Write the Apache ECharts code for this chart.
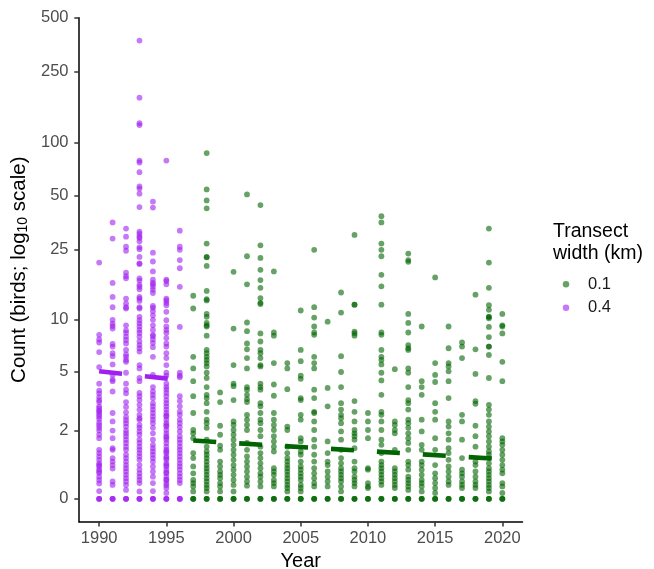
<!DOCTYPE html>
<html>
<head>
<meta charset="utf-8">
<script src="https://cdn.jsdelivr.net/npm/echarts@6/dist/echarts.min.js"></script>
<style>
html,body{margin:0;padding:0;background:#fff;}
#chart{width:654px;height:569px;}
</style>
</head>
<body>
<div id="chart"></div>
<script>
// ---- Data (counts) ----
const widthLabels = ['0.1', '0.4'];
const years04 = [1990, 1991, 1992, 1993, 1994, 1995, 1996];
const years01 = [1997, 1998, 1999, 2000, 2001, 2002, 2003, 2004, 2005, 2006, 2007, 2008,
                 2009, 2010, 2011, 2012, 2013, 2014, 2015, 2016, 2017, 2018, 2019, 2020];

const c1990 = [21.1, 8.2, 7.7, 7.4, 6.5, 5.3, 4.2, 3.8, 3.65, 3.45, 3.3, 3.2, 3.0, 2.9, 2.8, 2.75, 2.65, 2.55, 2.45, 2.3, 2.2, 2.1, 2.0, 1.85, 1.73, 1.35, 1.25, 1.15, 1.05, 0.95, 0.9, 0.86, 0.78, 0.72, 0.68, 0.58, 0.49, 0.4, 0.2, 0, 0, 0];
const c1991 = [35.5, 28.8, 16.2, 13.5, 11.8, 10, 9.5, 9.2, 8.9, 7.25, 7.0, 6.4, 6.15, 5.5, 4.75, 4.45, 4.35, 3.75, 2.7, 2.35, 2.0, 1.73, 1.4, 1.35, 1.1, 1.0, 0.9, 0.8, 0.45, 0.36, 0, 0, 0];
const c1992 = [32.8, 29.5, 25.9, 24.6, 18.5, 17.7, 17.2, 13.2, 12.4, 11.8, 11.6, 9.3, 8.7, 8.4, 8.0, 7.65, 7.3, 6.7, 6.3, 6.1, 5.85, 5.7, 4.9, 4.2, 3.85, 3.65, 3.2, 2.97, 2.73, 2.53, 2.4, 2.28, 2.15, 2.0, 1.9, 1.8, 1.68, 1.57, 1.45, 1.35, 1.2, 1.1, 1.0, 0.9, 0.81, 0.72, 0.63, 0.54, 0.45, 0.36, 0.23, 0, 0, 0];
const c1993 = [372, 178, 128, 125, 79, 77, 68, 56.5, 55, 51.5, 43.3, 31.5, 30.6, 29.5, 29, 27.8, 25.7, 25.1, 22.7, 20.9, 20.7, 17.2, 16.7, 15.8, 15.4, 14.9, 13.5, 13.2, 12.8, 11.8, 11.6, 10.4, 9.95, 9.55, 9.15, 8.75, 8.4, 8.0, 7.5, 7.15, 6.85, 6.55, 5.45, 5.2, 4.55, 4.35, 3.67, 3.5, 3.3, 3.07, 2.85, 2.62, 2.48, 2.42, 2.21, 2.1, 1.97, 1.85, 1.68, 1.57, 1.45, 1.35, 1.25, 1.15, 1.05, 0.9, 0.77, 0.67, 0.58, 0.49, 0.41, 0.19, 0, 0, 0];
const c1994 = [46.5, 43, 24, 21.4, 18.8, 16.9, 16.2, 15.9, 15.4, 14.8, 14.2, 12.0, 11.7, 11.2, 10.6, 10.0, 9.3, 8.75, 8.2, 8.05, 7.7, 7.35, 6.95, 6.1, 4.75, 4.0, 3.75, 3.57, 3.4, 3.15, 3.0, 2.85, 2.7, 2.55, 2.42, 2.28, 2.1, 1.9, 1.68, 1.51, 1.4, 1.3, 1.2, 1.1, 1.0, 0.86, 0.72, 0.58, 0.41, 0.2, 0, 0, 0];
const c1995 = [79, 16.9, 16.6, 15.9, 13.2, 12.9, 12.5, 12.1, 11.1, 9.95, 9.15, 8.75, 8.4, 7.85, 7.3, 7.0, 6.4, 6.0, 5.45, 4.9, 4.7, 4.2, 4.0, 3.85, 3.67, 3.5, 3.3, 3.15, 3.0, 2.85, 2.7, 2.6, 2.55, 2.42, 2.28, 2.2, 2.15, 2.02, 1.9, 1.8, 1.75, 1.68, 1.57, 1.45, 1.35, 1.3, 1.25, 1.15, 1.1, 1.05, 0.95, 0.9, 0.86, 0.77, 0.7, 0.67, 0.58, 0.5, 0.49, 0.41, 0.35, 0.28, 0.15, 0, 0, 0];
const c1996 = [31.9, 25.9, 24.9, 21.8, 19.6, 15.4, 9.1, 4.9, 4.7, 4.6, 3.5, 3.25, 3.0, 2.76, 2.62, 2.42, 2.28, 2.13, 1.97, 1.8, 1.68, 1.57, 1.45, 1.35, 1.25, 1.15, 1.05, 0.95, 0.86, 0.77, 0.67, 0.58, 0.49, 0.41, 0, 0, 0];

const c1997 = [13.7, 11.6, 6.1, 5.2, 4.35, 3.5, 2.7, 2.02, 1.9, 1.73, 1.25, 1.1, 0.86, 0.67, 0.49, 0.41, 0.32, 0.19, 0, 0, 0];
const c1998 = [87, 54.4, 47.2, 42.6, 27, 22.7, 22.6, 20.2, 14.6, 13.1, 12.9, 10.8, 10.4, 9.6, 9.3, 9.15, 8.1, 6.7, 6.4, 6.1, 5.85, 5.6, 5.35, 4.9, 4.55, 4.0, 3.57, 3.4, 3.15, 2.75, 2.42, 2.28, 2.1, 1.68, 1.45, 1.3, 1.2, 1.1, 1.0, 0.9, 0.81, 0.72, 0.63, 0.54, 0.45, 0.36, 0.28, 0.19, 0, 0, 0];
const c1999 = [3.7, 3.2, 2.18, 1.85, 1.48, 1.35, 1.0, 0.86, 0.72, 0.63, 0.54, 0.41, 0.32, 0.19, 0, 0, 0];
const c2000 = [18.7, 8.9, 5.45, 4.2, 4.05, 3.3, 2.35, 2.21, 2.02, 1.85, 1.68, 1.51, 1.35, 1.2, 1.05, 0.9, 0.77, 0.63, 0.49, 0.36, 0.19, 0, 0, 0];
const c2001 = [51, 22.9, 15.9, 9.65, 8.6, 7.3, 6.75, 6.0, 5.2, 4.0, 3.85, 3.57, 3.35, 3.2, 2.62, 2.42, 2.21, 2.02, 1.57, 1.35, 1.15, 1.0, 0.86, 0.72, 0.58, 0.45, 0.34, 0, 0, 0];
const c2002 = [44.4, 26.4, 22.4, 19.2, 16.8, 15.2, 13.3, 12.5, 12.3, 8.35, 7.5, 6.7, 6.4, 6.0, 5.45, 5.35, 4.2, 4.0, 3.85, 3.15, 3.0, 2.7, 2.42, 2.28, 2.02, 1.8, 1.45, 1.25, 1.1, 0.95, 0.81, 0.67, 0.58, 0.45, 0.32, 0, 0, 0];
const c2003 = [18.8, 8.45, 8.1, 5.6, 4.15, 3.52, 2.7, 2.42, 2.21, 2.02, 1.8, 1.62, 1.45, 1.3, 0.81, 0.72, 0.63, 0.49, 0.41, 0.32, 0, 0, 0];
const c2004 = [5.6, 5.2, 3.88, 2.15, 2.02, 1.45, 1.25, 1.1, 1.0, 0.9, 0.81, 0.72, 0.63, 0.54, 0.45, 0.36, 0.28, 0.19, 0, 0, 0];
const c2005 = [11.3, 6.7, 5.75, 4.7, 4.5, 3.4, 3.3, 2.62, 2.42, 1.73, 1.62, 1.3, 1.2, 1.0, 0.86, 0.77, 0.67, 0.58, 0.49, 0.36, 0.28, 0.19, 0, 0, 0];
const c2006 = [24.9, 11.8, 10.3, 9.15, 8.45, 8.2, 6.1, 5.6, 5.2, 3.85, 3.4, 2.75, 2.7, 2.35, 2.02, 1.68, 1.45, 1.2, 1.0, 0.81, 0.67, 0.54, 0.41, 0.32, 0, 0, 0];
const c2007 = [9.75, 3.95, 3.0, 1.62, 1.25, 1.0, 0.9, 0.72, 0.58, 0.45, 0.32, 0, 0, 0];
const c2008 = [14.3, 11.0, 6.15, 4.95, 4.0, 3.15, 2.85, 2.62, 2.48, 2.28, 1.97, 1.68, 1.35, 1.1, 0.95, 0.81, 0.72, 0.63, 0.54, 0.45, 0.32, 0.19, 0, 0, 0];
const c2009 = [30.2, 12.2, 12.2, 8.55, 8.35, 8.1, 3.25, 2.75, 2.35, 2.02, 1.9, 1.8, 1.68, 1.4, 1.0, 0.81, 0.72, 0.58, 0.49, 0.41, 0.32, 0, 0, 0];
const c2010 = [2.7, 2.35, 2.02, 1.73, 0.81, 0.77, 0.41, 0.32, 0.28, 0, 0, 0];
const c2011 = [38.5, 35.5, 27, 24.9, 22.9, 18, 15.5, 12.2, 8.45, 8.2, 6.7, 6.1, 5.85, 5.5, 4.9, 4.4, 3.57, 2.75, 2.62, 2.35, 2.02, 1.68, 1.51, 1.25, 1.0, 0.9, 0.81, 0.72, 0.63, 0.54, 0.45, 0.36, 0, 0, 0];
const c2012 = [5.15, 2.35, 2.21, 2.02, 1.9, 1.35, 0.81, 0.72, 0.63, 0.54, 0.45, 0.36, 0.28, 0, 0, 0];
const c2013 = [23.7, 21.8, 21.3, 10.8, 9.6, 8.45, 7.15, 6.85, 6.7, 5.2, 4.9, 4.0, 3.3, 3.15, 2.85, 2.42, 2.28, 2.1, 1.9, 1.73, 1.57, 1.35, 1.0, 0.9, 0.77, 0.58, 0.49, 0.41, 0.32, 0.23, 0, 0, 0];
const c2014 = [9.15, 4.35, 4.0, 3.57, 2.42, 1.97, 1.51, 1.35, 1.0, 0.9, 0.77, 0.63, 0.49, 0.41, 0.32, 0.19, 0, 0, 0];
const c2015 = [17.4, 5.6, 4.75, 4.3, 3.15, 2.75, 2.42, 1.73, 1.35, 0.9, 0.67, 0.54, 0.41, 0.28, 0.15, 0, 0, 0];
const c2016 = [9.15, 6.85, 5.6, 5.35, 5.0, 4.35, 3.4, 2.35, 2.15, 1.9, 1.68, 1.4, 1.25, 1.05, 0.86, 0.72, 0.58, 0.45, 0.36, 0, 0, 0];
const c2017 = [7.4, 7.0, 6.0, 2.62, 2.35, 1.68, 1.1, 0.77, 0.67, 0.58, 0.45, 0.36, 0.28, 0, 0, 0];
const c2018 = [13.9, 6.75, 4.82, 3.25, 3.12, 2.18, 1.8, 1.45, 1.0, 0.9, 0.72, 0.58, 0.45, 0.36, 0.28, 0, 0, 0];
const c2019 = [32.8, 21.1, 15.2, 12.1, 11.4, 10.4, 10.4, 10.2, 9.1, 7.95, 7.0, 7.0, 6.25, 4.55, 3.07, 2.85, 2.62, 2.35, 2.15, 1.97, 1.8, 1.62, 1.45, 1.3, 1.2, 1.1, 0.95, 0.81, 0.72, 0.63, 0.54, 0.45, 0.36, 0.28, 0.19, 0, 0, 0];
const c2020 = [10.8, 9.3, 9.15, 8.35, 5.7, 4.35, 1.73, 1.62, 1.51, 1.35, 1.2, 1.05, 0.9, 0.77, 0.67, 0.41, 0.32, 0.15, 0, 0, 0];

const counts04 = [c1990, c1991, c1992, c1993, c1994, c1995, c1996];
const counts01 = [c1997, c1998, c1999, c2000, c2001, c2002, c2003, c2004, c2005, c2006, c2007, c2008,
                  c2009, c2010, c2011, c2012, c2013, c2014, c2015, c2016, c2017, c2018, c2019, c2020];

// fitted trend (dashed) lines, end points
const trendYears04 = [1990, 1996];
const trendCounts04 = [5.0, 4.43];
const trendYears01 = [1997, 2020];
const trendCounts01 = [1.65, 1.07];

// axis ticks
const yTickCounts = [0, 2, 5, 10, 25, 50, 100, 250, 500];
const xTickYears = [1990, 1995, 2000, 2005, 2010, 2015, 2020];

// ---- pseudo-log transform (asinh(x/2)) ----
const tf = v => Math.asinh(v / 2);
const inv = t => 2 * Math.sinh(t);

function buildPoints(years, counts) {
  const pts = [];
  years.forEach((yr, i) => counts[i].forEach(v => pts.push([yr, tf(v)])));
  return pts;
}
const pts04 = buildPoints(years04, counts04);
const pts01 = buildPoints(years01, counts01);
const line04 = trendYears04.map((y, i) => [y, tf(trendCounts04[i])]);
const line01 = trendYears01.map((y, i) => [y, tf(trendCounts01[i])]);

let maxT = 0;
[...pts04, ...pts01].forEach(p => { if (p[1] > maxT) maxT = p[1]; });
const yMin = -0.05 * maxT, yMax = maxT * 1.05;
const xMinYear = Math.min(...years04), xMaxYear = Math.max(...years01);
const xPad = 0.05 * (xMaxYear - xMinYear);

const PURPLE = '#A020F0', GREEN = '#006400';
const FONT = '"Liberation Sans", Arial, Helvetica, sans-serif';

const chart = echarts.init(document.getElementById('chart'), null, { renderer: 'canvas' });
chart.setOption({
  animation: false,
  backgroundColor: '#ffffff',
  textStyle: { fontFamily: FONT },
  grid: { left: 79, right: 131.5, top: 17.7, bottom: 47.3, outerBoundsMode: 'none', containLabel: false },
  title: {
    text: 'Transect\nwidth (km)',
    left: 553, top: 220, padding: 0,
    textStyle: { fontFamily: FONT, fontSize: 19.5, fontWeight: 'normal', color: '#000', lineHeight: 22.6 }
  },
  legend: {
    data: widthLabels,
    orient: 'vertical',
    left: 562.75, top: 275.8, padding: 0,
    icon: 'circle', itemWidth: 6.5, itemHeight: 6.5, itemGap: 6.4,
    textStyle: { fontFamily: FONT, fontSize: 16.5, color: '#1a1a1a', padding: [0, 0, 0, 13.7] }
  },
  xAxis: {
    type: 'value',
    min: xMinYear - xPad, max: xMaxYear + xPad,
    name: 'Year', nameLocation: 'middle', nameGap: 28,
    nameTextStyle: { fontFamily: FONT, fontSize: 20, color: '#000' },
    axisLine: { show: true, onZero: false, lineStyle: { color: '#000', width: 1.5 } },
    axisTick: { show: true, length: 4.7, customValues: xTickYears, lineStyle: { color: '#333', width: 1.5 } },
    axisLabel: { customValues: xTickYears, margin: 8, fontFamily: FONT, fontSize: 16.5, color: '#4D4D4D',
      formatter: v => String(Math.round(v)) },
    splitLine: { show: false }
  },
  yAxis: {
    type: 'value',
    min: yMin, max: yMax,
    name: 'Count (birds; log{sub|10} scale)', nameLocation: 'middle', nameGap: 48,
    nameTextStyle: {
      fontFamily: FONT, fontSize: 20.5, color: '#000',
      rich: { sub: { fontFamily: FONT, fontSize: 14, color: '#000', verticalAlign: 'bottom', padding: [8, 0, 0, 0] } }
    },
    axisLine: { show: true, onZero: false, lineStyle: { color: '#000', width: 1.5 } },
    axisTick: { show: true, length: 4.7, customValues: yTickCounts.map(tf), lineStyle: { color: '#333', width: 1.5 } },
    axisLabel: {
      customValues: yTickCounts.map(tf), margin: 10.5, fontFamily: FONT, fontSize: 16.5, color: '#4D4D4D',
      formatter: v => String(Math.round(inv(v)))
    },
    splitLine: { show: false }
  },
  series: [
    {
      name: widthLabels[0], type: 'scatter', data: pts01, symbolSize: 5.8,
      itemStyle: { color: GREEN, opacity: 0.6 }, z: 2
    },
    {
      name: widthLabels[1], type: 'scatter', data: pts04, symbolSize: 5.8,
      itemStyle: { color: PURPLE, opacity: 0.6 }, z: 2
    },
    {
      name: 'trend04', type: 'line', data: line04, symbol: 'none', z: 3,
      lineStyle: { color: PURPLE, width: 4.6, type: [23, 23], cap: 'butt' }
    },
    {
      name: 'trend01', type: 'line', data: line01, symbol: 'none', z: 3,
      lineStyle: { color: GREEN, width: 4.6, type: [23, 23], cap: 'butt' }
    }
  ]
});
</script>
</body>
</html>
